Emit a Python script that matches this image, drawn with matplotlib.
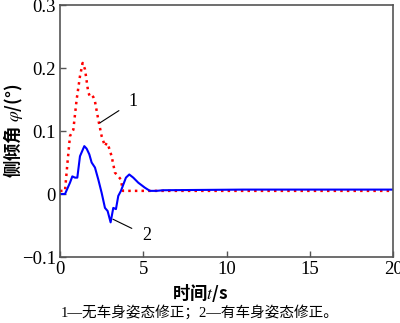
import matplotlib.pyplot as plt

plt.rcParams['font.family'] = ['Liberation Serif', 'Noto Sans CJK SC']
plt.rcParams['mathtext.fontset'] = 'stix'

# curve 1: no body attitude correction
t1 = [0, 0.3, 0.45, 0.6, 0.8, 1.0, 1.2, 1.36, 1.5, 1.7, 1.8, 1.9, 2.0, 2.1, 2.3, 2.5,
      2.7, 2.8, 2.9, 3.1, 3.3, 3.5, 3.66, 3.77, 5, 10, 15, 20]
phi1 = [0.005, 0.005, 0.05, 0.092, 0.102, 0.15, 0.187, 0.208, 0.198, 0.161, 0.155, 0.157,
        0.154, 0.147, 0.118, 0.092, 0.076, 0.081, 0.077, 0.060, 0.034, 0.028, 0.023,
        0.005, 0.005, 0.005, 0.005, 0.005]

# curve 2: with body attitude correction
t2 = [0, 0.3, 0.6, 0.74, 0.9, 1.04, 1.2, 1.46, 1.6, 1.76, 1.9, 2.1, 2.3, 2.5, 2.7, 2.86,
      3.04, 3.2, 3.36, 3.5, 3.66, 3.96, 4.16, 4.4, 4.7, 5.1, 5.4, 5.8, 6.2, 11, 20]
phi2 = [0, 0, 0.018, 0.028, 0.026, 0.026, 0.06, 0.076, 0.072, 0.063, 0.05, 0.042, 0.023,
        0.002, -0.022, -0.027, -0.045, -0.022, -0.024, -0.003, 0.005, 0.026, 0.031,
        0.026, 0.018, 0.010, 0.005, 0.005, 0.006, 0.007, 0.007]

xticks = [0, 5, 10, 15, 20]
yticks = [-0.1, 0, 0.1, 0.2, 0.3]
ytick_labels = ['\u22120.1', '0', '0.1', '0.2', '0.3']

fig = plt.figure(figsize=(4, 3.23), dpi=100)
ax = fig.add_axes([0.15, 0.2043, 0.8325, 0.7802])

ax.plot(t1, phi1, color='red', linestyle=':', linewidth=1.8)
ax.plot(t2, phi2, color='blue', linestyle='-', linewidth=1.5)

ax.set_xlim(0, 20)
ax.set_ylim(-0.1, 0.3)
ax.set_xticks(xticks)
ax.set_xticklabels([str(v) for v in xticks])
ax.set_yticks(yticks)
ax.set_yticklabels(ytick_labels)
ax.tick_params(direction='in', length=4, width=1, labelsize=13.5, colors='#555555',
               labelcolor='black', pad=3)
for s in ax.spines.values():
    s.set_color('#555555')
    s.set_linewidth(1.2)

# axis titles placed by hand
fig.text(0.5, 1 - 293 / 323, '时间$\\it{t}$/s', ha='center', va='center', fontsize=12.5,
         fontweight='bold', family=['Noto Sans CJK SC'])
fig.text(13 / 400, 1 - 131 / 323, '侧倾角 $\\it{\\varphi}$/(°)', ha='center', va='center',
         rotation=90, fontsize=12.5, fontweight='bold', family=['Noto Sans CJK SC'])

# curve annotations
ax.annotate('1', xy=(2.4, 0.113), xytext=(4.4, 0.147), fontsize=13,
            ha='center', va='center',
            arrowprops=dict(arrowstyle='-', color='black', lw=0.8, shrinkB=0, shrinkA=6))
ax.annotate('2', xy=(3.18, -0.04), xytext=(5.2, -0.066), fontsize=13,
            ha='center', va='center',
            arrowprops=dict(arrowstyle='-', color='black', lw=0.8, shrinkB=0, shrinkA=6))

fig.text(0.5, 1 - 312 / 323, '1—无车身姿态修正；2—有车身姿态修正。', ha='center', va='center',
         fontsize=10.5)

fig.savefig('out.png', dpi=100)
